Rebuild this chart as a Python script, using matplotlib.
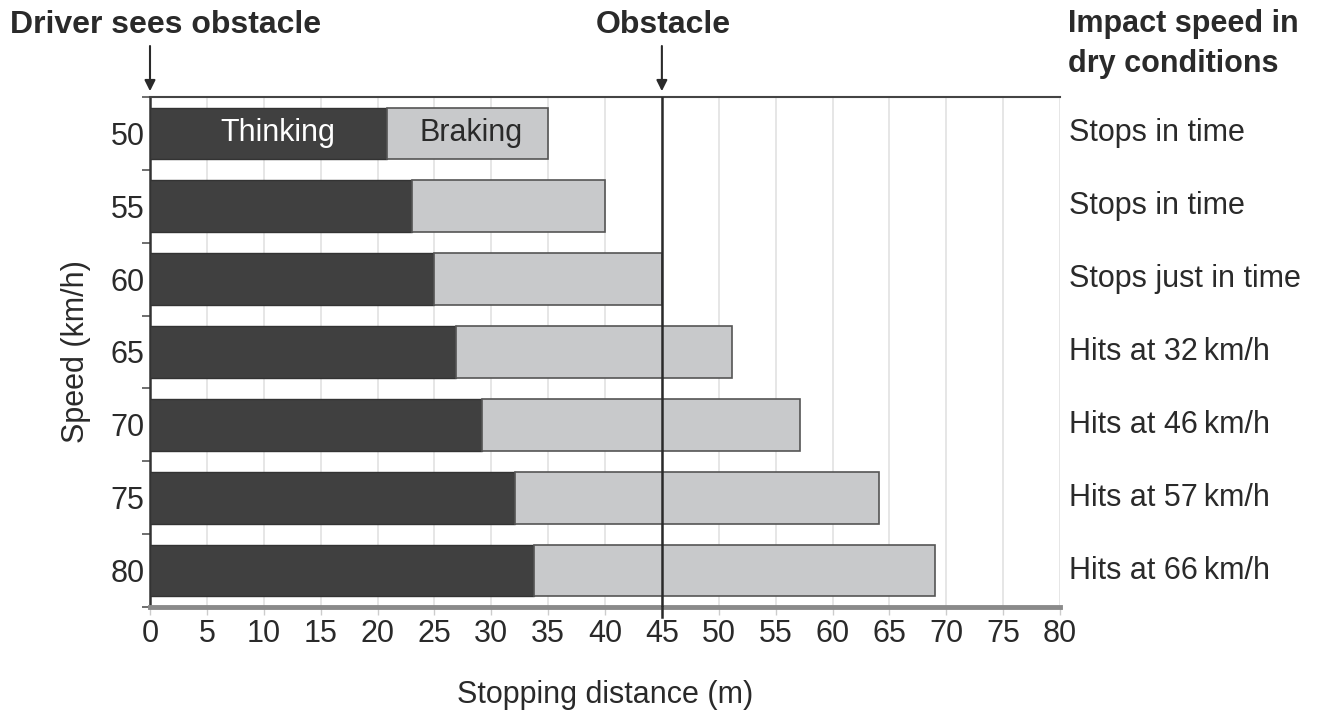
import matplotlib.pyplot as plt
import numpy as np

speeds = [50, 55, 60, 65, 70, 75, 80]
thinking = [20.8, 23.0, 25.0, 26.9, 29.2, 32.1, 33.8]
total = [35.0, 40.0, 45.0, 51.2, 57.1, 64.1, 69.0]
impact = ['Stops in time', 'Stops in time', 'Stops just in time',
          'Hits at 32\u2009km/h', 'Hits at 46\u2009km/h',
          'Hits at 57\u2009km/h', 'Hits at 66\u2009km/h']
obstacle = 45
xticks = list(range(0, 85, 5))

plt.rcParams['font.family'] = ['Liberation Sans', 'DejaVu Sans']
FS = 22
TXT = '#2a2a2a'

braking = [t - th for t, th in zip(total, thinking)]
y = np.arange(len(speeds))

fig = plt.figure(figsize=(13.24, 7.13), dpi=100)
ax = fig.add_axes([150/1324, 1 - 607/713, 910/1324, 510/713])

dark = '#404040'
light = '#c8c9cb'
ax.barh(y, thinking, height=0.71, color=dark, edgecolor='#333333', linewidth=1, zorder=3)
ax.barh(y, braking, left=thinking, height=0.71, color=light, edgecolor='#555555',
        linewidth=1.2, zorder=3)

ax.set_xlim(0, 80)
ax.set_ylim(6.5, -0.5)

# grid and obstacle line
for xv in xticks[1:]:
    ax.axvline(xv, color='#e2e2e2', linewidth=1.2, zorder=1)
ax.axvline(obstacle, color=TXT, linewidth=1.8, zorder=4)
ax.plot([obstacle, obstacle], [6.5, 6.64], color=TXT, linewidth=1.8,
        clip_on=False, zorder=4)

ax.set_xticks(xticks)
ax.set_xticklabels([str(v) for v in xticks], fontsize=FS, color=TXT)
ax.tick_params(axis='x', length=6, width=1, color='#cccccc', pad=3)
ax.set_yticks(y)
ax.set_yticklabels([str(s) for s in speeds], fontsize=FS, color=TXT)
ax.tick_params(axis='y', length=0, pad=4)
ax.set_yticks(np.arange(-0.5, 7, 1), minor=True)
ax.tick_params(axis='y', which='minor', length=6, width=1.2, color='#555555')

ax.spines['right'].set_visible(False)
ax.spines['top'].set_color('#444444')
ax.spines['top'].set_linewidth(1.5)
ax.spines['left'].set_color('#333333')
ax.spines['left'].set_linewidth(1.8)
ax.spines['bottom'].set_color('#8a8a8a')
ax.spines['bottom'].set_linewidth(3.5)

ax.set_xlabel('Stopping distance (m)', fontsize=FS, color=TXT, labelpad=22)
ax.set_ylabel('Speed (km/h)', fontsize=FS, color=TXT, labelpad=14)

# labels inside the first bar
ax.text(thinking[0] / 2 + 0.8, 0, 'Thinking', color='white', fontsize=FS,
        ha='center', va='center', zorder=5)
ax.text(thinking[0] + braking[0] / 2 + 0.3, 0, 'Braking', color=TXT, fontsize=FS,
        ha='center', va='center', zorder=5)

# impact labels
for yi, lab in zip(y, impact):
    ax.text(1.01, yi, lab, transform=ax.get_yaxis_transform(), fontsize=FS,
            color=TXT, ha='left', va='center')

# header texts
fig.text(10/1324, 1 - 25/713, 'Driver sees obstacle', fontsize=FS + 1, fontweight='bold',
         color=TXT, ha='left', va='center')
fig.text(663/1324, 1 - 25/713, 'Obstacle', fontsize=FS + 1, fontweight='bold',
         color=TXT, ha='center', va='center')
fig.text(1068/1324, 1 - 44/713, 'Impact speed in\ndry conditions', fontsize=FS,
         fontweight='bold', color=TXT, ha='left', va='center', linespacing=1.45)

# arrows
for xv in [0, obstacle]:
    ax.annotate('', xy=(xv, -0.58), xytext=(xv, -1.2), xycoords='data',
                annotation_clip=False,
                arrowprops=dict(arrowstyle='-|>', color=TXT, lw=1.5,
                                mutation_scale=16, shrinkA=0, shrinkB=0))

fig.savefig('out.png', dpi=100)
